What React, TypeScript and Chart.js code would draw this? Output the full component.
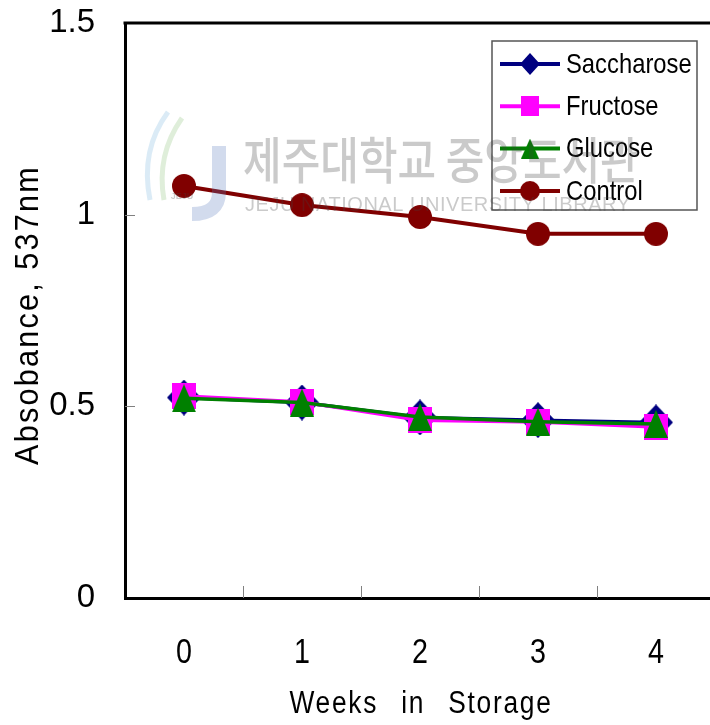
import React, { useEffect, useRef } from "react";
import { Chart, registerables } from "chart.js";

Chart.register(...registerables);

// Storage weeks and absorbance readings at 537 nm
const weeks = ["0", "1", "2", "3", "4"];
const yTickValues = [0, 0.5, 1, 1.5];
const yTickLabels = ["0", "0.5", "1", "1.5"];
const saccharose = [0.523, 0.51, 0.471, 0.464, 0.458];
const fructose = [0.527, 0.511, 0.464, 0.459, 0.446];
const glucose = [0.521, 0.51, 0.472, 0.46, 0.454];
const control = [1.075, 1.025, 0.994, 0.95, 0.95];
const seriesNames = ["Saccharose", "Fructose", "Glucose", "Control"];
const xTitle = "Weeks in Storage";
const yTitle = "Absobance, 537nm";
const watermarkKo = "제주대학교 중앙도서관";
const watermarkEn = "JEJU NATIONAL UNIVERSITY LIBRARY";
const watermarkBadge = "JEJU";

const SANS = '"Liberation Sans", Arial, sans-serif';

type Shape = "diamond" | "square" | "triangle" | "circle";

function makeMarker(shape: Shape, color: string, w: number, h: number): HTMLCanvasElement {
  const c = document.createElement("canvas");
  c.width = w;
  c.height = h;
  const g = c.getContext("2d")!;
  g.fillStyle = color;
  g.beginPath();
  if (shape === "diamond") {
    g.moveTo(w / 2, 0);
    g.lineTo(w, h / 2);
    g.lineTo(w / 2, h);
    g.lineTo(0, h / 2);
  } else if (shape === "square") {
    g.rect(0, 0, w, h);
  } else if (shape === "triangle") {
    g.moveTo(w / 2, 0);
    g.lineTo(w, h);
    g.lineTo(0, h);
  } else {
    g.ellipse(w / 2, h / 2, w / 2, h / 2, 0, 0, Math.PI * 2);
  }
  g.closePath();
  g.fill();
  return c;
}

// Draws text squeezed horizontally, so a regular face reads as a condensed one
function condensedText(
  ctx: CanvasRenderingContext2D,
  text: string,
  x: number,
  y: number,
  size: number,
  squeeze: number,
  align: "left" | "center",
  letter = 0,
  word = 0
) {
  ctx.save();
  ctx.translate(x, y);
  ctx.scale(squeeze, 1);
  ctx.font = `${size}px ${SANS}`;
  (ctx as any).letterSpacing = `${letter}px`;
  (ctx as any).wordSpacing = `${word}px`;
  ctx.textAlign = align;
  ctx.fillText(text, 0, 0);
  ctx.restore();
}

export default function App() {
  const canvasRef = useRef<HTMLCanvasElement | null>(null);

  useEffect(() => {
    const canvas = canvasRef.current;
    if (!canvas) return;

    const colors = ["#000080", "#FF00FF", "#008000", "#800000"];
    const shapes: Shape[] = ["diamond", "square", "triangle", "circle"];
    const bigSizes = [
      [34, 36],
      [24, 26],
      [24, 28],
      [24, 24],
    ];
    const smallSizes = [
      [20, 22],
      [18, 20],
      [18, 20],
      [20, 20],
    ];
    const bigMarkers = shapes.map((s, i) => makeMarker(s, colors[i], bigSizes[i][0], bigSizes[i][1]));
    const smallMarkers = shapes.map((s, i) => makeMarker(s, colors[i], smallSizes[i][0], smallSizes[i][1]));
    const values = [saccharose, fructose, glucose, control];
    const orders = [3, 2, 1, 0];

    const datasets = values.map((data, i) => ({
      label: seriesNames[i],
      data,
      borderColor: colors[i],
      backgroundColor: colors[i],
      borderWidth: i === 3 ? 4 : 3.5,
      pointStyle: bigMarkers[i] as any,
      pointRadius: 12,
      pointHoverRadius: 12,
      tension: 0,
      order: orders[i],
    }));

    // Inner tick marks and top frame line
    const framePlugin = {
      id: "frame",
      beforeDatasetsDraw(chart: any) {
        const { ctx, chartArea } = chart;
        const xs = chart.scales.x;
        const ys = chart.scales.y;
        const step = xs.getPixelForValue(1) - xs.getPixelForValue(0);
        ctx.save();
        ctx.strokeStyle = "#808080";
        ctx.lineWidth = 1;
        ctx.beginPath();
        for (let i = 1; i < yTickValues.length - 1; i++) {
          const y = Math.round(ys.getPixelForValue(yTickValues[i])) + 0.5;
          ctx.moveTo(chartArea.left, y);
          ctx.lineTo(chartArea.left + 10, y);
        }
        for (let i = 0; i < weeks.length; i++) {
          const x = Math.round(xs.getPixelForValue(i) + step / 2) + 0.5;
          ctx.moveTo(x, chartArea.bottom);
          ctx.lineTo(x, chartArea.bottom - 12);
        }
        ctx.stroke();
        ctx.strokeStyle = "#000";
        ctx.lineWidth = 3;
        ctx.beginPath();
        ctx.moveTo(chartArea.left - 1.5, chartArea.top);
        ctx.lineTo(chartArea.right, chartArea.top);
        ctx.stroke();
        ctx.restore();
      },
    };

    // Category labels, axis titles, legend and the library watermark
    const overlayPlugin = {
      id: "overlay",
      afterDraw(chart: any) {
        const { ctx, chartArea } = chart;
        const xs = chart.scales.x;
        ctx.save();
        ctx.fillStyle = "#000";
        ctx.textBaseline = "alphabetic";

        // category labels under the axis
        weeks.forEach((w, i) => {
          condensedText(ctx, w, xs.getPixelForValue(i), chartArea.bottom + 65, 35, 0.82, "center");
        });

        // x title
        ctx.font = `31px ${SANS}`;
        (ctx as any).letterSpacing = "2px";
        const xPlain = ctx.measureText(xTitle).width;
        (ctx as any).letterSpacing = "0px";
        const xSq = 0.85;
        const xWord = (263 / xSq - xPlain) / 2;
        condensedText(ctx, xTitle, (chartArea.left + chartArea.right) / 2 + 1, chartArea.bottom + 115, 31, xSq, "center", 2, xWord);

        // y title
        const ySq = 0.9;
        const yLetter = 2.5;
        ctx.font = `34px ${SANS}`;
        (ctx as any).letterSpacing = `${yLetter}px`;
        const yPlain = ctx.measureText(yTitle).width;
        (ctx as any).letterSpacing = "0px";
        const yWord = 300 / ySq - yPlain;
        ctx.save();
        ctx.translate(38, 315);
        ctx.rotate(-Math.PI / 2);
        condensedText(ctx, yTitle, 0, 0, 34, ySq, "center", yLetter, Math.max(0, yWord));
        ctx.restore();

        // legend
        const lx = chartArea.right - 223;
        const ly = chartArea.top + 18;
        const lw = 205;
        const lh = 169;
        ctx.fillStyle = "#fff";
        ctx.fillRect(lx, ly, lw, lh);
        ctx.strokeStyle = "#555";
        ctx.lineWidth = 1.5;
        ctx.strokeRect(lx, ly, lw, lh);
        ctx.textBaseline = "middle";
        for (let i = 0; i < seriesNames.length; i++) {
          const cy = ly + 23 + i * 42.3;
          ctx.strokeStyle = colors[i];
          ctx.lineWidth = 4;
          ctx.beginPath();
          ctx.moveTo(lx + 8, cy);
          ctx.lineTo(lx + 68, cy);
          ctx.stroke();
          const m = smallMarkers[i];
          ctx.drawImage(m, lx + 38 - m.width / 2, cy - m.height / 2);
          ctx.fillStyle = "#000";
          condensedText(ctx, seriesNames[i], lx + 74, cy + 1, 28, 0.85, "left");
        }

        // watermark
        ctx.globalAlpha = 0.28;
        ctx.strokeStyle = "#7fb8de";
        ctx.lineWidth = 5;
        ctx.beginPath();
        ctx.moveTo(168, 112);
        ctx.quadraticCurveTo(140, 150, 150, 200);
        ctx.stroke();
        ctx.strokeStyle = "#8cc27a";
        ctx.beginPath();
        ctx.moveTo(182, 118);
        ctx.quadraticCurveTo(156, 155, 164, 200);
        ctx.stroke();
        ctx.strokeStyle = "#5f7fbf";
        ctx.lineWidth = 14;
        ctx.beginPath();
        ctx.moveTo(219, 146);
        ctx.lineTo(219, 192);
        ctx.quadraticCurveTo(219, 214, 192, 214);
        ctx.stroke();
        ctx.fillStyle = "#404040";
        ctx.font = `bold 9px ${SANS}`;
        ctx.textAlign = "center";
        ctx.fillText(watermarkBadge, 182, 197);

        ctx.textAlign = "left";
        ctx.textBaseline = "middle";
        ctx.save();
        ctx.translate(243, 160);
        ctx.scale(1, 1.2);
        ctx.font = `500 42px "Noto Sans CJK KR", sans-serif`;
        ctx.fillText(watermarkKo, 0, 0);
        ctx.restore();

        ctx.font = `20px ${SANS}`;
        const plain = ctx.measureText(watermarkEn).width;
        const spacing = (385 - plain) / (watermarkEn.length - 1);
        (ctx as any).letterSpacing = `${spacing}px`;
        ctx.fillText(watermarkEn, 245, 205);
        (ctx as any).letterSpacing = "0px";

        ctx.restore();
      },
    };

    const chart = new Chart(canvas, {
      type: "line",
      data: { labels: weeks, datasets: datasets as any },
      options: {
        responsive: false,
        animation: false,
        devicePixelRatio: 1,
        layout: { autoPadding: false, padding: { top: 23, right: 5, left: 0, bottom: 0 } },
        plugins: {
          legend: { display: false },
          tooltip: { enabled: false },
          title: { display: false },
        },
        scales: {
          x: {
            type: "category",
            offset: true,
            grid: { display: false },
            border: { display: true, color: "#000", width: 3 },
            ticks: { display: false },
            afterFit: (s: any) => {
              s.height = 127;
              s.paddingLeft = 0;
              s.paddingRight = 0;
            },
          },
          y: {
            type: "linear",
            min: 0,
            max: 1.5,
            grid: { display: false },
            border: { display: true, color: "#000", width: 3 },
            afterBuildTicks: (s: any) => {
              s.ticks = yTickValues.map((v) => ({ value: v }));
            },
            ticks: {
              color: "#000",
              font: { family: SANS, size: 33 },
              padding: 22,
              callback: (_v: any, i: number) => yTickLabels[i],
            },
            afterFit: (s: any) => {
              s.width = 125;
              s.paddingTop = 0;
              s.paddingBottom = 0;
            },
          },
        },
      },
      plugins: [framePlugin, overlayPlugin],
    });

    return () => chart.destroy();
  }, []);

  return (
    <div
      style={{
        position: "fixed",
        left: 0,
        top: 0,
        width: 710,
        height: 725,
        overflow: "hidden",
        background: "#fff",
      }}
    >
      <canvas ref={canvasRef} width={720} height={725} style={{ display: "block" }} />
    </div>
  );
}
